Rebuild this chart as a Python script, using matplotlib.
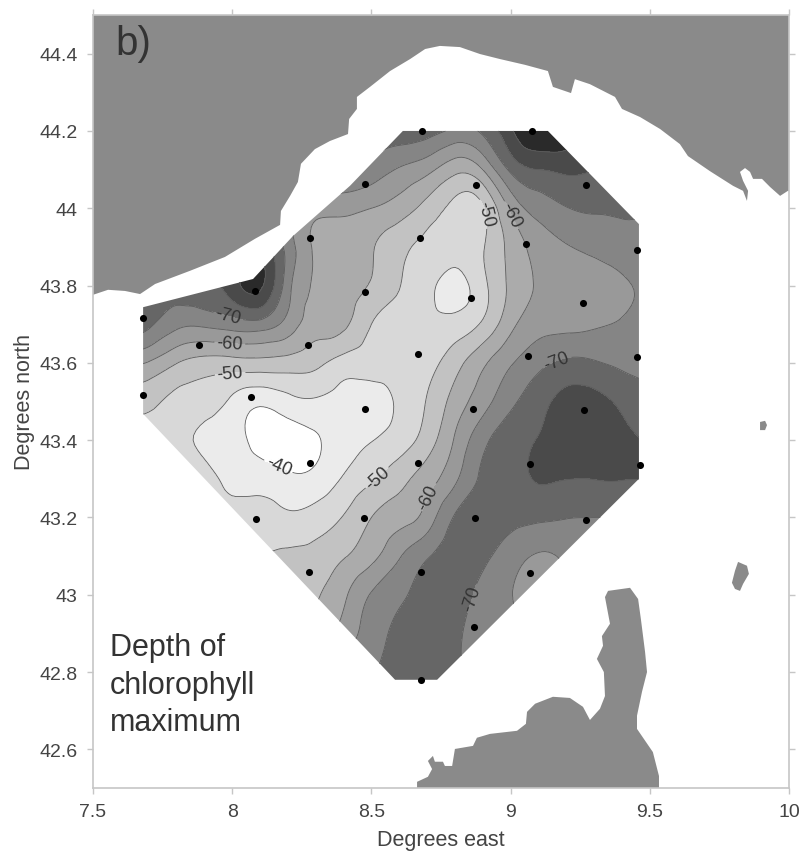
import matplotlib
matplotlib.use('Agg')
import matplotlib.pyplot as plt
import matplotlib.tri as mtri
from matplotlib.patches import Polygon
import numpy as np

plt.rcParams['font.family'] = ['Liberation Sans', 'DejaVu Sans']

# --- depth field (m), north to south ---
grid_lon = [7.6, 7.7, 7.8, 7.9, 8.0, 8.1, 8.2, 8.3, 8.4, 8.5, 8.6, 8.7, 8.8, 8.9, 9.0, 9.1, 9.2, 9.3, 9.4, 9.5]
grid_lat = [44.2, 44.1, 44.0, 43.9, 43.8, 43.7, 43.6, 43.5, 43.4, 43.3, 43.2, 43.1, 43.0, 42.9, 42.8, 42.7]
depth = [
    [-73, -73, -73, -73, -73, -73, -73, -73, -73, -73, -73.5, -72, -69, -71, -79, -86, -84, -80, -75, -72],
    [-72, -72, -72, -72, -72, -72, -72, -71, -70, -68, -64.5, -61.5, -56.5, -60, -71, -75, -76, -75, -73, -71],
    [-68, -68, -68, -68, -67, -66, -65, -62, -61.5, -60, -57.5, -53, -48.5, -49.5, -61, -67, -69.8, -70.5, -70.5, -70],
    [-72, -72, -72, -73, -74, -76, -68, -59.2, -57.3, -55.4, -51.5, -48.5, -47, -49.6, -56.5, -62, -64.6, -66.5, -68, -68.5],
    [-72, -72, -72, -74, -77.5, -81, -67, -59.5, -56.8, -54.6, -50.2, -46.5, -43.5, -48.5, -56, -60.5, -61.5, -62, -64.2, -66],
    [-73, -71, -66.4, -66, -67.5, -68, -63, -57.5, -56, -50, -48, -46.5, -46.8, -50.8, -58.5, -63, -63.5, -64.3, -65.5, -67],
    [-61, -59.6, -55.2, -53, -53, -53.3, -52.8, -51.2, -48, -47, -46.8, -48.3, -53, -59, -64.5, -68.5, -71, -70.5, -69, -68],
    [-52, -51.3, -48.5, -47.3, -44, -41, -43.2, -44.3, -43, -43, -45.8, -50.3, -57, -63, -68.8, -73.2, -76.5, -76.5, -74, -72],
    [-48, -48, -46.5, -44, -41.8, -38.5, -38, -39.5, -42.5, -44.8, -47.5, -52.5, -60.5, -68.5, -73.2, -75.2, -77, -77, -76, -74.5],
    [-48, -48, -48, -46.8, -43.5, -42.5, -41, -41.5, -45.5, -49.3, -53.2, -57.7, -64, -71, -73.5, -75.3, -75.1, -75.1, -75.2, -75],
    [-49, -49, -49, -48, -47, -47.5, -46, -47.2, -50.3, -55, -58, -62.2, -70.5, -72, -71.4, -71, -70.2, -70, -70, -70],
    [-52, -52, -52, -51, -50, -50, -51, -51.7, -54.6, -58.5, -64.5, -69.5, -72.5, -71, -67.5, -64.5, -66, -68, -69, -70],
    [-55, -55, -55, -55, -54, -54, -54, -54.5, -59, -65.4, -69, -72.5, -72.5, -68.5, -65.2, -63, -64, -66, -67, -68],
    [-58, -58, -58, -58, -57, -57, -57, -57, -62, -67.3, -71.5, -73, -71.2, -67, -66, -66, -66, -66, -66, -66],
    [-62, -62, -62, -62, -62, -62, -62, -62, -66, -69.5, -73, -73.5, -71, -68, -67, -67, -67, -67, -67, -67],
    [-65, -65, -65, -65, -65, -65, -65, -65, -68, -71, -73.5, -74, -72, -69, -68, -68, -68, -68, -68, -68],
]

# sampling stations
station_lon = [8.682, 9.077, 8.477, 8.876, 9.271, 8.279, 8.675, 9.055, 9.454, 8.477, 8.858, 9.26, 8.082,
               7.68, 7.881, 8.272, 8.667, 9.062, 9.454, 7.68, 8.068, 8.477, 8.865, 9.264, 8.667, 8.279,
               9.07, 9.465, 8.085, 8.473, 8.872, 9.271, 8.276, 8.678, 9.07, 8.869, 8.678]
station_lat = [44.2, 44.2, 44.063, 44.06, 44.06, 43.923, 43.923, 43.907, 43.892, 43.783, 43.768, 43.755, 43.786,
               43.716, 43.646, 43.646, 43.623, 43.618, 43.615, 43.517, 43.512, 43.481, 43.481, 43.478, 43.341, 43.341,
               43.338, 43.336, 43.196, 43.199, 43.199, 43.193, 43.059, 43.059, 43.056, 42.917, 42.78]

# outline of the surveyed area
area_lon = [7.68, 8.075, 8.218, 8.423, 8.613, 9.134, 9.461, 9.461, 8.736, 8.585, 7.68]
area_lat = [43.744, 43.817, 43.928, 44.058, 44.2, 44.2, 43.959, 43.30, 42.78, 42.78, 43.468]

# land
ligurian_lon = [7.5, 7.554, 7.615, 7.669, 7.723, 7.848, 7.974, 8.082, 8.172, 8.175, 8.208, 8.236, 8.247, 8.297,
                8.351, 8.416, 8.42, 8.448, 8.448, 8.495, 8.567, 8.639, 8.693, 8.746, 8.818, 8.89, 8.962, 9.052,
                9.134, 9.152, 9.217, 9.231, 9.285, 9.375, 9.4, 9.465, 9.537, 9.608, 9.637, 9.716, 9.799, 9.835,
                9.849, 9.853, 9.835, 9.824, 9.842, 9.86, 9.871, 9.903, 9.932, 9.968, 9.996, 10, 10, 7.5]
ligurian_lat = [43.776, 43.789, 43.786, 43.778, 43.804, 43.838, 43.874, 43.921, 43.957, 43.993, 44.032, 44.068,
                44.115, 44.153, 44.174, 44.192, 44.231, 44.257, 44.288, 44.314, 44.355, 44.386, 44.412, 44.42,
                44.417, 44.399, 44.386, 44.371, 44.355, 44.314, 44.298, 44.334, 44.321, 44.288, 44.257, 44.236,
                44.205, 44.166, 44.135, 44.096, 44.058, 44.045, 44.019, 44.045, 44.071, 44.094, 44.104, 44.094,
                44.076, 44.076, 44.055, 44.032, 44.045, 44.045, 44.5, 44.5]
corsica_lon = [8.664, 8.664, 8.703, 8.718, 8.703, 8.721, 8.728, 8.757, 8.764, 8.79, 8.8, 8.865, 8.879, 8.926,
               9.023, 9.055, 9.059, 9.088, 9.152, 9.213, 9.26, 9.285, 9.321, 9.339, 9.335, 9.31, 9.332, 9.328,
               9.357, 9.339, 9.35, 9.429, 9.458, 9.468, 9.483, 9.49, 9.472, 9.454, 9.454, 9.511, 9.533, 9.533]
corsica_lat = [42.5, 42.516, 42.529, 42.549, 42.57, 42.583, 42.568, 42.568, 42.557, 42.557, 42.601, 42.609, 42.63,
               42.64, 42.648, 42.666, 42.697, 42.718, 42.736, 42.733, 42.71, 42.676, 42.705, 42.738, 42.8, 42.834,
               42.868, 42.893, 42.925, 42.994, 43.01, 43.018, 42.989, 42.937, 42.852, 42.8, 42.749, 42.687, 42.653,
               42.593, 42.531, 42.5]
capraia_lon = [9.817, 9.849, 9.856, 9.835, 9.824, 9.806, 9.795, 9.806]
capraia_lat = [43.085, 43.075, 43.054, 43.028, 43.01, 43.015, 43.031, 43.062]
gorgona_lon = [9.896, 9.914, 9.921, 9.914, 9.896]
gorgona_lat = [43.447, 43.45, 43.439, 43.426, 43.426]

levels = [-100, -80, -75, -70, -65, -60, -55, -50, -45, -40, -20]
greys = ['#2a2a2a', '#4a4a4a', '#666666', '#858585', '#999999', '#ababab', '#c2c2c2', '#d8d8d8', '#ebebeb', '#ffffff']
line_levels = [-80, -75, -70, -65, -60, -55, -50, -45, -40]

# where the contour labels sit
label_lon = [7.985, 7.992, 7.992, 8.168, 8.524, 8.696, 8.843, 9.167, 8.901, 9.005]
label_lat = [43.719, 43.654, 43.576, 43.336, 43.3, 43.256, 42.994, 43.602, 43.985, 43.983]

xticks = [7.5, 8, 8.5, 9, 9.5, 10]
xticklabels = ['7.5', '8', '8.5', '9', '9.5', '10']
yticks = [42.6, 42.8, 43, 43.2, 43.4, 43.6, 43.8, 44, 44.2, 44.4]
yticklabels = ['42.6', '42.8', '43', '43.2', '43.4', '43.6', '43.8', '44', '44.2', '44.4']

land = '#8a8a8a'
edge = '#c6c6c6'
ink = '#444444'

fig = plt.figure(figsize=(8, 8.54), dpi=100)
ax = fig.add_axes([93 / 800, 65 / 854, 696 / 800, 773 / 854])

ax.fill(ligurian_lon, ligurian_lat, color=land, lw=0)
ax.fill(corsica_lon, corsica_lat, color=land, lw=0)
ax.fill(capraia_lon, capraia_lat, color=land, lw=0)
ax.fill(gorgona_lon, gorgona_lat, color=land, lw=0)

# smooth the read grid a bit so the contours come out round
lon2d, lat2d = np.meshgrid(grid_lon, grid_lat)
tri = mtri.Triangulation(lon2d.ravel(), lat2d.ravel())
refiner = mtri.UniformTriRefiner(tri)
tri_fine, depth_fine = refiner.refine_field(np.array(depth).ravel(), subdiv=3)

area = Polygon(np.column_stack([area_lon, area_lat]), closed=True, transform=ax.transData, fc='none', ec='none')
ax.add_patch(area)

filled = ax.tricontourf(tri_fine, depth_fine, levels=levels, colors=greys)
filled.set_clip_path(area)
lines = ax.tricontour(tri_fine, depth_fine, levels=line_levels, colors='#5c5c5c', linewidths=0.6, linestyles='solid')
lines.set_clip_path(area)
labels = ax.clabel(lines, fmt='%d', fontsize=13, colors='#333333', inline_spacing=1,
                   manual=list(zip(label_lon, label_lat)))

ax.scatter(station_lon, station_lat, s=26, color='black', zorder=5, linewidths=0)

ax.text(7.582, 44.4, 'b)', fontsize=29, color='#333333', ha='left', va='baseline')
ax.text(7.561, 42.631, 'Depth of\nchlorophyll\nmaximum', fontsize=22, color='#333333', ha='left', va='bottom',
        linespacing=1.33)

ax.set_xlim(7.5, 10)
ax.set_ylim(42.5, 44.5)
ax.set_xticks(xticks)
ax.set_xticklabels(xticklabels)
ax.set_yticks(yticks)
ax.set_yticklabels(yticklabels)
ax.tick_params(which='both', direction='out', length=4, width=1, color=edge, labelcolor=ink, labelsize=14,
               top=True, right=True, pad=7)
for s in ax.spines.values():
    s.set_color(edge)
    s.set_linewidth(1.2)

ax.set_xlabel('Degrees east', fontsize=15.5, color=ink, labelpad=6)
ax.set_ylabel('Degrees north', fontsize=15.5, color=ink, labelpad=3)

fig.savefig('out.png', dpi=100)
